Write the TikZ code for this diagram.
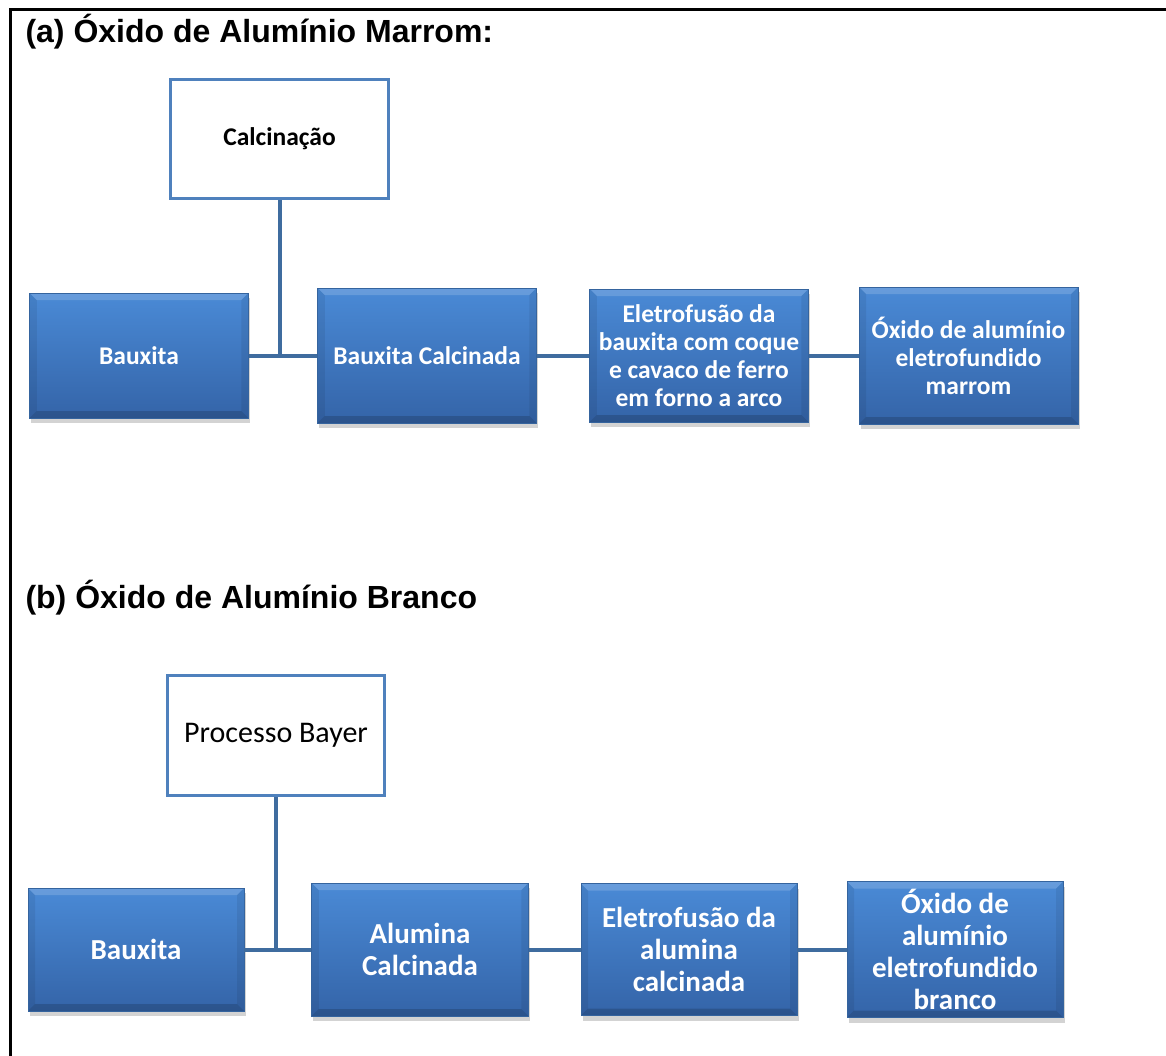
\documentclass[tikz,border=0pt]{standalone}
\usepackage{fontspec}
\setmainfont{Liberation Sans}
\newfontfamily\boxfont{Carlito}
\usepackage{tikz}
\usetikzlibrary{shadows}
\definecolor{boxtop}{HTML}{4A8AD6}
\definecolor{boxbot}{HTML}{3464A8}
\definecolor{boxline}{HTML}{35649E}
\definecolor{linkblue}{HTML}{3F6C9F}
\definecolor{frameblue}{HTML}{4F81BD}

\begin{document}
\begin{tikzpicture}[x=1pt,y=-1pt,
		bevel/.style={path picture={
				\coordinate (q1) at (path picture bounding box.north west);
				\coordinate (q2) at (path picture bounding box.north east);
				\coordinate (q3) at (path picture bounding box.south east);
				\coordinate (q4) at (path picture bounding box.south west);
				\fill[white,opacity=0.16] (q1) -- (q2) -- ([shift={(-7pt,-7pt)}]q2) -- ([shift={(7pt,-7pt)}]q1) -- cycle;
				\fill[black,opacity=0.16] (q4) -- (q3) -- ([shift={(-7pt,7pt)}]q3) -- ([shift={(7pt,7pt)}]q4) -- cycle;
				\fill[black,opacity=0.07] (q1) -- ([shift={(7pt,-7pt)}]q1) -- ([shift={(7pt,7pt)}]q4) -- (q4) -- cycle;
				\fill[black,opacity=0.07] (q2) -- ([shift={(-7pt,-7pt)}]q2) -- ([shift={(-7pt,7pt)}]q3) -- (q3) -- cycle;}},
		bluebox/.style={rectangle,inner sep=0pt,top color=boxtop,bottom color=boxbot,draw=boxline,line width=0.8pt,bevel,
			drop shadow={shadow xshift=1.5pt,shadow yshift=-5pt,opacity=0.35},text=white,align=center},
		whitebox/.style={rectangle,inner sep=0pt,draw=frameblue,line width=3pt,fill=white,align=center},
		fonta/.style={font=\boxfont\bfseries\fontsize{25.5}{28}\selectfont},
		fontb/.style={font=\boxfont\bfseries\fontsize{29}{32}\selectfont},
		link/.style={draw=linkblue,line width=4pt}]
		\useasboundingbox (0,0) rectangle (1166,1055);
		\draw[line width=3pt] (10,1056) -- (10,9) -- (1167,9);
		
		% (a)
		\node[anchor=base west,font=\bfseries\fontsize{32}{38}\selectfont] (titA) at (22,42) {(a) Óxido de Alumínio Marrom:};
		\node[whitebox,minimum width=218pt,minimum height=119pt,font=\boxfont\bfseries\fontsize{25.5}{28}\selectfont] (calcA) at (279.5,139) {Calcinação};
		\node[bluebox,fonta,minimum width=218.5pt,minimum height=125pt] (bauxA) at (139,355.5) {Bauxita};
		\node[bluebox,fonta,minimum width=218.5pt,minimum height=135pt] (bcA) at (427,355.5) {Bauxita Calcinada};
		\node[bluebox,fonta,minimum width=218.5pt,minimum height=133pt] (eletA) at (699,355.5) {Eletrofusão da\\bauxita com coque\\e cavaco de ferro\\em forno a arco};
		\node[bluebox,fonta,minimum width=219pt,minimum height=137pt] (oxA) at (968.5,355.5) {Óxido de alumínio\\eletrofundido\\marrom};
		\draw[link] (calcA.south) -- (calcA.south |- bauxA.east);
		\draw[link] (bauxA.east) -- (bcA.west);
		\draw[link] (bcA.east) -- (eletA.west);
		\draw[link] (eletA.east) -- (oxA.west);
		
		% (b)
		\node[anchor=base west,font=\bfseries\fontsize{32}{38}\selectfont] (titB) at (22,608) {(b) Óxido de Alumínio Branco};
		\node[whitebox,minimum width=217pt,minimum height=120pt,font=\boxfont\fontsize{30}{34}\selectfont] (bayerB) at (276,735.5) {Processo Bayer};
		\node[bluebox,fontb,minimum width=216pt,minimum height=123pt] (bauxB) at (136,949.5) {Bauxita};
		\node[bluebox,fontb,minimum width=216.5pt,minimum height=133pt] (alB) at (420,949.5) {Alumina\\Calcinada};
		\node[bluebox,fontb,minimum width=216pt,minimum height=132pt] (eletB) at (689,949.5) {Eletrofusão da\\alumina\\calcinada};
		\node[bluebox,fontb,minimum width=216pt,minimum height=136pt] (oxB) at (955,949.5) {Óxido de\\alumínio\\eletrofundido\\branco};
		\draw[link] (bayerB.south) -- (bayerB.south |- bauxB.east);
		\draw[link] (bauxB.east) -- (alB.west);
		\draw[link] (alB.east) -- (eletB.west);
		\draw[link] (eletB.east) -- (oxB.west);
	\end{tikzpicture}
\end{document}
